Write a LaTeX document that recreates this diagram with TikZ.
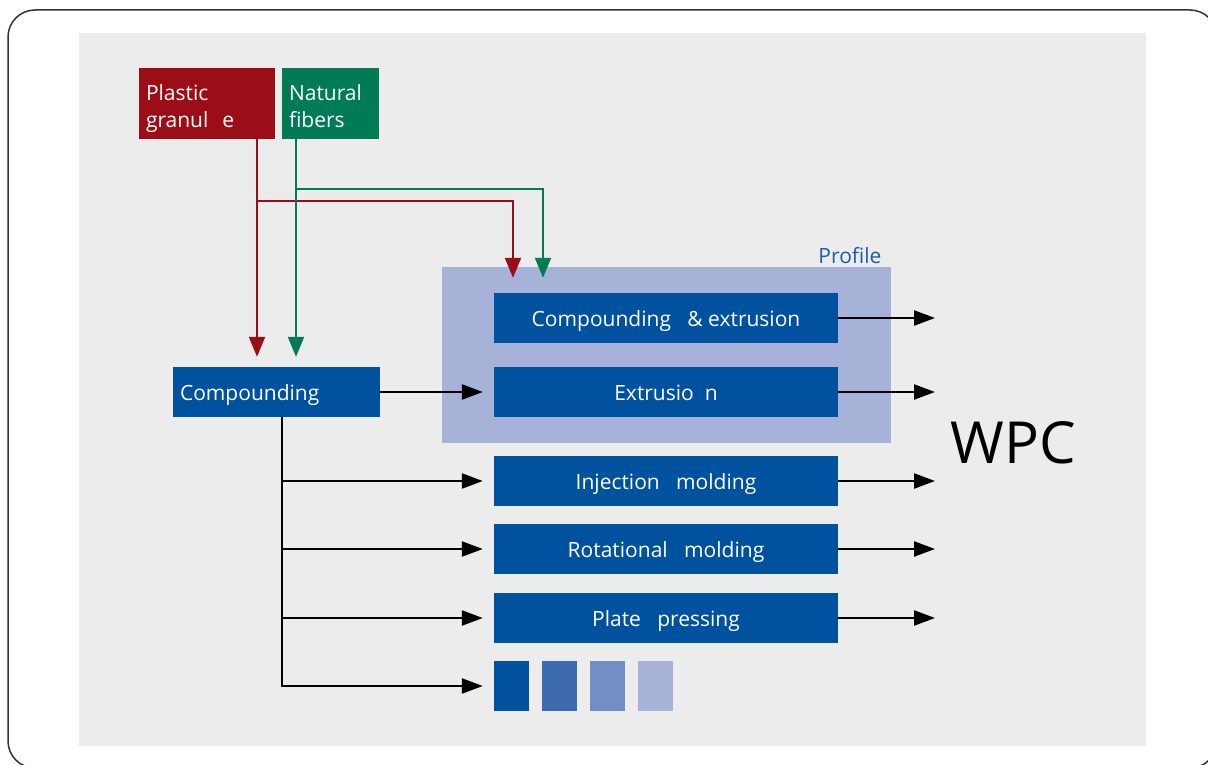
\documentclass[tikz,border=0pt]{standalone}
\usepackage{fontspec}
\setmainfont{Open Sans}
\usepackage{tikz}
\usetikzlibrary{arrows.meta, calc}
\definecolor{panel}{RGB}{235, 236, 235}
\definecolor{wpcblue}{RGB}{0, 81, 158}
\definecolor{midblue}{RGB}{60, 108, 174}
\definecolor{softblue}{RGB}{115, 142, 197}
\definecolor{paleblue}{RGB}{166, 178, 216}
\definecolor{labelblue}{RGB}{26, 94, 165}
\definecolor{plasticred}{RGB}{155, 14, 23}
\definecolor{fibergreen}{RGB}{0, 123, 85}

\newcommand{\topgap}{\rule{0pt}{27pt}}
\newcommand{\lowgap}{\rule[-6pt]{0pt}{6pt}}

\tikzset{
  stepbox/.style={fill=wpcblue, text=white, minimum width=344, minimum height=50,
    inner sep=0pt, text height=20pt, text depth=4pt, font=\fontsize{21}{25}\selectfont},
  srcbox/.style={text=white, minimum height=71, inner xsep=7pt, inner ysep=2pt,
    align=left, font=\fontsize{21}{27}\selectfont},
  flow/.style={line width=2.4pt, -{Triangle[length=21pt, width=15pt]}},
  feed/.style={line width=2.2pt, -{Triangle[length=20pt, width=16pt]}}
}

\begin{document}
\begin{tikzpicture}[x=1pt, y=-1pt]
  \useasboundingbox (0, 0) rectangle (1208, 765);
  \begin{scope}
    \clip (0, 0) rectangle (1208, 765);
    \draw[line width=1.5pt, black!80, rounded corners=27pt] (8, 10) rectangle (1217, 768);
  \end{scope}
  \fill[panel] (79, 33) rectangle (1146, 746);

  % profile group
  \fill[paleblue] (442, 267) rectangle (891, 443);
  \node[text=labelblue, font=\fontsize{21}{25}\selectfont, anchor=base east]
    (profile) at (885, 263) {Profile};

  % raw materials
  \node[srcbox, fill=plasticred, text width=122, minimum width=136] (plastic)
    at (207, 103.5) {\topgap Plastic\\granul\ \ e\lowgap};
  \node[srcbox, fill=fibergreen, text width=83, minimum width=97] (fibers)
    at (330.5, 103.5) {\topgap Natural\\fibers\lowgap};

  % process steps
  \node[stepbox, minimum width=207, text width=193, align=left] (comp)
    at (276.5, 392) {Compounding};
  \node[stepbox] (compext) at (666, 318) {Compounding\ \ \ \& extrusion};
  \node[stepbox] (extr) at (666, 392) {Extrusio\ \ n};
  \node[stepbox] (inject) at (666, 481) {Injection\ \ \ molding};
  \node[stepbox] (rotate) at (666, 549) {Rotational\ \ \ molding};
  \node[stepbox] (plate) at (666, 618) {Plate\ \ \ pressing};
  \foreach \c [count=\k from 0] in {wpcblue, midblue, softblue, paleblue} {
    \node[fill=\c, minimum width=35, minimum height=50, inner sep=0pt]
      (sq\k) at (511.5 + 48 * \k, 686) {};
  }

  \node[font=\fontsize{58}{60}\selectfont] (wpc) at (1013, 443) {WPC};

  % feeds
  \coordinate (redx) at (257, 201);
  \coordinate (greenx) at (296, 189);
  \draw[feed, plasticred] (plastic.south -| redx) -- ([yshift=10]comp.north -| redx);
  \draw[feed, plasticred] (redx) -| ([yshift=15]compext.north -| 513, 0);
  \draw[feed, fibergreen] (fibers.south -| greenx) -- ([yshift=10]comp.north -| greenx);
  \draw[feed, fibergreen] (greenx) -| ([yshift=15]compext.north -| 543, 0);

  % flows
  \coordinate (trunk) at ([xshift=5.5]comp.south);
  \draw[flow] (comp.east) -- ([xshift=-11]extr.west);
  \foreach \n in {inject, rotate, plate, sq0} {
    \draw[flow] (trunk) |- ([xshift=-11]\n.west);
  }
  \coordinate (out) at (935, 0);
  \foreach \n in {compext, extr, inject, rotate, plate} {
    \draw[flow] (\n.east) -- (\n.east -| out);
  }
\end{tikzpicture}
\end{document}
